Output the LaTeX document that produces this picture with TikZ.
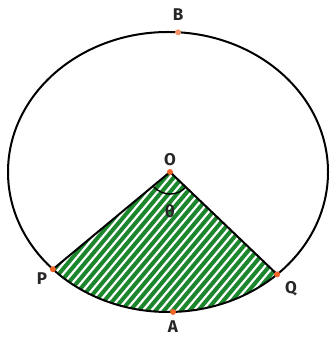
\documentclass[tikz,border=0pt]{standalone}
\usepackage{fontspec}
\setmainfont{Fira Sans}
\usetikzlibrary{calc}
\definecolor{sectgreen}{RGB}{28,134,44}
\definecolor{dotorange}{RGB}{240,100,40}
\tikzset{
  dot/.style={circle,fill=dotorange,inner sep=0pt,minimum size=6pt},
  lbl/.style={font=\fontsize{17}{17}\selectfont\bfseries,text=black!85,inner sep=0pt},
  outline/.style={line width=2pt,black},
  stripe/.style={white,line width=2.2pt}
}
\begin{document}
\begin{tikzpicture}[x=1pt,y=1pt]
\useasboundingbox (0,0) rectangle (335,339);
\coordinate (C) at (168,167);
\coordinate (O) at (170,167);
\coordinate (P) at ($(C)+(224:160pt and 140pt)$);
\coordinate (Q) at ($(C)+(313:160pt and 140pt)$);
\coordinate (A) at ($(C)+(271.8:160pt and 140pt)$);
\coordinate (B) at ($(C)+(86.4:160pt and 140pt)$);
% sector
\begin{scope}
  \clip (O) -- (P) arc[start angle=224,end angle=313,x radius=160pt,y radius=140pt] -- cycle;
  \fill[sectgreen] (0,0) rectangle (335,339);
  \foreach \i in {-40,...,60}{
    \draw[stripe] ({\i*8.5},0) -- ++(50:400pt);
  }
\end{scope}
\draw[outline] (C) ellipse[x radius=160pt,y radius=140pt];
\draw[outline] (P) -- (O) -- (Q);
\draw[line width=1.4pt] ($(O)+(218.8:22pt)$) arc[start angle=218.8,end angle=316.1,radius=22pt];
% dots
\node[dot] (dO) at (O) {};
\node[dot] (dP) at (P) {};
\node[dot] (dQ) at (Q) {};
\node[dot] (dA) at (A) {};
\node[dot,fill=dotorange!70] (dB) at (B) {};
% labels
\node[lbl] (lB) at (178,324) {B};
\node[lbl] (lO) at (170,179) {O};
\node[lbl] (lT) at (170,128) {θ};
\node[lbl] (lP) at (42,60) {P};
\node[lbl] (lQ) at (291,50) {Q};
\node[lbl] (lA) at (173,12) {A};
\end{tikzpicture}
\end{document}
